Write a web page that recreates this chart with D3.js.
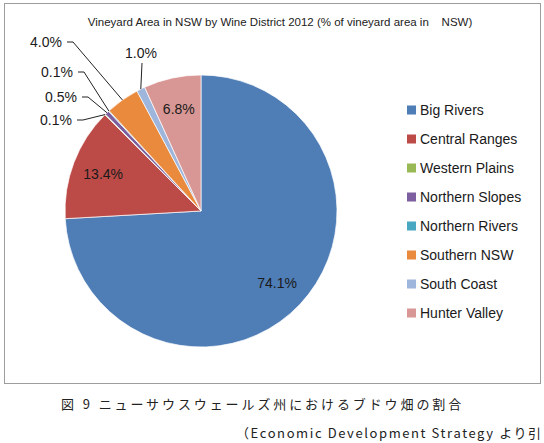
<!DOCTYPE html>
<html>
<head>
<meta charset="utf-8">
<script src="https://cdn.jsdelivr.net/npm/d3@7"></script>
<style>
  body { margin: 0; background: #fff; }
  svg { display: block; font-family: "Liberation Sans", Arial, sans-serif; }
  .caption { font-family: "Noto Sans CJK JP", sans-serif; }
</style>
</head>
<body>
<svg id="chart" width="544" height="443"></svg>
<script>
// data
var districts = ['Big Rivers', 'Central Ranges', 'Western Plains', 'Northern Slopes',
  'Northern Rivers', 'Southern NSW', 'South Coast', 'Hunter Valley'];
var shares = [74.1, 13.4, 0.1, 0.5, 0.1, 4.0, 1.0, 6.8];
var colors = ['#4F7DB6', '#BC4B48', '#98B954', '#7D5FA0', '#48A7C1', '#E98A3C', '#9FB6DC', '#D89795'];
var titleText = 'Vineyard Area in NSW by Wine District 2012 (% of vineyard area in\u00a0\u00a0\u00a0\u00a0NSW)';

// where the small slices get their callout text (offset from pie centre)
var callouts = {
  2: {dx: -129, dy: -91, side: 'left'},
  3: {dx: -124, dy: -114, side: 'left'},
  4: {dx: -128, dy: -139, side: 'left'},
  5: {dx: -139, dy: -169, side: 'left'},
  6: {dx: -60, dy: -153, side: 'top'}
};

var svg = d3.select('#chart');
var cx = 201, cy = 211, r = 136;

// chart frame
svg.append('rect')
  .attr('x', 4.5).attr('y', 3.5)
  .attr('width', 536).attr('height', 380)
  .attr('fill', '#fff').attr('stroke', '#9d9d9d');

svg.append('text')
  .attr('x', 280).attr('y', 26)
  .attr('text-anchor', 'middle')
  .attr('font-size', '11.5px')
  .attr('fill', '#222')
  .text(titleText);

var ds = districts.map(function(d, i) { return {name: d, value: shares[i], i: i}; });

var pie = d3.pie().sort(null).value(function(d) { return d.value; });
var arc = d3.arc().innerRadius(0).outerRadius(r);
var labelArc = d3.arc().innerRadius(r * 0.77).outerRadius(r * 0.77);

var g = svg.append('g').attr('transform', 'translate(' + cx + ',' + cy + ')');
var arcs = pie(ds);

g.selectAll('path')
  .data(arcs)
  .enter()
  .append('path')
  .attr('d', arc)
  .attr('fill', function(d) { return colors[d.data.i]; })
  .attr('stroke', '#fff')
  .attr('stroke-width', 0.7);

// labels inside the big slices
g.selectAll('.inlabel')
  .data(arcs.filter(function(d) { return !callouts[d.data.i]; }))
  .enter()
  .append('text')
  .attr('class', 'inlabel')
  .attr('transform', function(d) { return 'translate(' + labelArc.centroid(d) + ')'; })
  .attr('text-anchor', 'middle')
  .attr('dy', '0.35em')
  .attr('font-size', '14px')
  .attr('fill', '#1a1a1a')
  .text(function(d) { return d.data.value.toFixed(1) + '%'; });

// callouts with leader lines
arcs.filter(function(d) { return callouts[d.data.i]; }).forEach(function(d) {
  var c = callouts[d.data.i];
  var mid = (d.startAngle + d.endAngle) / 2;
  var ex = Math.sin(mid) * r, ey = -Math.cos(mid) * r;
  var pts;
  if (c.side === 'left') {
    pts = [[c.dx + 5, c.dy], [c.dx + 11, c.dy], [ex, ey]];
    g.append('text')
      .attr('x', c.dx).attr('y', c.dy)
      .attr('dy', '0.35em')
      .attr('text-anchor', 'end')
      .attr('font-size', '14px')
      .attr('fill', '#1a1a1a')
      .text(d.data.value.toFixed(1) + '%');
  } else {
    pts = [[c.dx + 1, c.dy + 5], [ex, ey]];
    g.append('text')
      .attr('x', c.dx).attr('y', c.dy)
      .attr('text-anchor', 'middle')
      .attr('font-size', '14px')
      .attr('fill', '#1a1a1a')
      .text(d.data.value.toFixed(1) + '%');
  }
  g.append('path')
    .attr('d', d3.line()(pts))
    .attr('fill', 'none')
    .attr('stroke', '#222')
    .attr('stroke-width', 1);
});

// legend
var legend = svg.append('g').attr('transform', 'translate(407,110)');
var row = legend.selectAll('g')
  .data(districts)
  .enter()
  .append('g')
  .attr('transform', function(d, i) { return 'translate(0,' + (i * 29) + ')'; });
row.append('rect')
  .attr('x', 0).attr('y', -4.5)
  .attr('width', 9).attr('height', 9)
  .attr('fill', function(d, i) { return colors[i]; });
row.append('text')
  .attr('x', 13).attr('dy', '0.35em')
  .attr('font-size', '14px')
  .attr('fill', '#1a1a1a')
  .text(function(d) { return d; });

// figure caption below the frame
svg.append('text')
  .attr('class', 'caption')
  .attr('x', 61).attr('y', 409)
  .attr('font-size', '13px')
  .attr('letter-spacing', '2.9px')
  .attr('fill', '#222')
  .text('図 9 ニューサウスウェールズ州におけるブドウ畑の割合');

// the source line runs off the page edge in the original
svg.append('text')
  .attr('class', 'caption')
  .attr('x', 236).attr('y', 438)
  .attr('font-size', '13px')
  .attr('letter-spacing', '1.6px')
  .attr('fill', '#222')
  .text('（Economic Development Strategy より引');
</script>
</body>
</html>
